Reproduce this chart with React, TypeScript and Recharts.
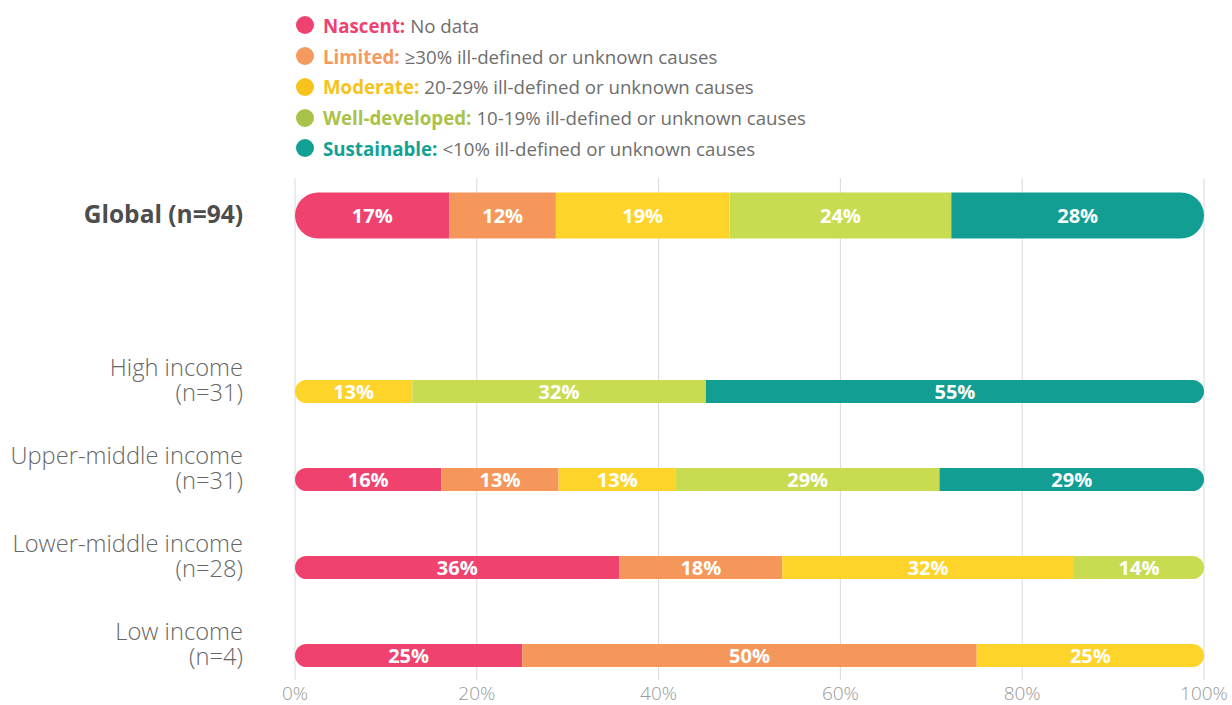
import React from "react";
import { Bar, BarChart, CartesianGrid, LabelList, Legend, Rectangle, XAxis, YAxis } from "recharts";

const categories = [
  "Global (n=94)",
  "",
  "High income (n=31)",
  "Upper-middle income (n=31)",
  "Lower-middle income (n=28)",
  "Low income (n=4)",
];
const nascent = [17.0, 0, 0, 16.1, 35.7, 25];
const limited = [11.7, 0, 0, 12.9, 17.9, 50];
const moderate = [19.1, 0, 12.9, 12.9, 32.1, 25];
const wellDeveloped = [24.4, 0, 32.3, 29.0, 14.3, 0];
const sustainable = [27.8, 0, 54.8, 29.1, 0, 0];
const xTicks = [0, 20, 40, 60, 80, 100];

const seriesKeys = ["nascent", "limited", "moderate", "wellDeveloped", "sustainable"];
const seriesNames = ["Nascent:", "Limited:", "Moderate:", "Well-developed:", "Sustainable:"];
const seriesDescriptions = [
  "No data",
  "≥30% ill-defined or unknown causes",
  "20-29% ill-defined or unknown causes",
  "10-19% ill-defined or unknown causes",
  "<10% ill-defined or unknown causes",
];

const barColors = ["#EF426F", "#F5975B", "#FFD42A", "#C9DC51", "#129E93"];
const legendColors = ["#EE4370", "#F59A5E", "#F7C21B", "#A9C24A", "#12A193"];
const FONT = "'Open Sans', sans-serif";

const data = categories.map((name, i) => ({
  name,
  nascent: nascent[i],
  limited: limited[i],
  moderate: moderate[i],
  wellDeveloped: wellDeveloped[i],
  sustainable: sustainable[i],
}));

// rounds only the outer ends of each stacked row; the global row is drawn twice as thick
const makeShape = (idx: number) => (props: any) => {
  const { x, y, width, height, payload, fill } = props;
  if (!width || width <= 0) return <g />;
  const row = seriesKeys.map((k) => Number(payload[k]) || 0);
  const before = row.slice(0, idx).reduce((a, b) => a + b, 0);
  const after = row.slice(idx + 1).reduce((a, b) => a + b, 0);
  const h = payload.name === categories[0] ? height * 2 : height;
  const top = y + height / 2 - h / 2;
  const r = h / 2;
  const left = before === 0 ? r : 0;
  const right = after === 0 ? r : 0;
  return <Rectangle x={x} y={top} width={width} height={h} fill={fill} radius={[left, right, right, left]} />;
};

const YTick = (props: any) => {
  const { x, y, payload } = props;
  const label: string = payload.value;
  if (!label) return <g />;
  if (label === categories[0]) {
    return (
      <text x={x} y={y + 8} textAnchor="end" fontFamily={FONT} fontWeight={700} fontSize={24.5} fill="#4D4D4D">
        {label}
      </text>
    );
  }
  const cut = label.lastIndexOf(" (");
  return (
    <text textAnchor="end" fontFamily={FONT} fontWeight={300} fontSize={23.7} fill="#666">
      <tspan x={x} y={y - 15}>{label.slice(0, cut)}</tspan>
      <tspan x={x} y={y + 10}>{label.slice(cut + 1)}</tspan>
    </text>
  );
};

const XTick = (props: any) => {
  const { x, y, payload } = props;
  return (
    <text x={x} y={y - 6} textAnchor="middle" dominantBaseline="central" fontFamily={FONT} fontWeight={300} fontSize={19} fill="#999">
      {`${payload.value}%`}
    </text>
  );
};

const LegendContent = () => (
  <div style={{ fontFamily: FONT, fontSize: 18.7 }}>
    {seriesKeys.map((k, i) => (
      <div key={k} style={{ display: "flex", alignItems: "center", height: 30.75, whiteSpace: "nowrap" }}>
        <span
          style={{ display: "inline-block", width: 18, height: 18, borderRadius: 9, background: legendColors[i], marginRight: 9 }}
        />
        <span style={{ fontWeight: 700, color: legendColors[i] }}>{seriesNames[i]}</span>
        <span style={{ color: "#6E6E6E", marginLeft: 5, fontWeight: 400 }}>{seriesDescriptions[i]}</span>
      </div>
    ))}
  </div>
);

const fmt = (v: any) => (Number(v) > 0 ? `${Math.round(Number(v))}%` : "");

export default function App() {
  return (
    <div style={{ position: "absolute", left: 0, top: 0, width: 1232, height: 705, background: "#fff", fontFamily: FONT }}>
      <BarChart
        width={1232}
        height={705}
        data={data}
        layout="vertical"
        margin={{ top: 171, right: 28, bottom: 0, left: 0 }}
        barSize={23}
      >
        <CartesianGrid horizontal={false} stroke="#D9D9D9" y={178} height={502} />
        <XAxis
          type="number"
          domain={[0, 100]}
          ticks={xTicks}
          axisLine={false}
          tickLine={false}
          tickSize={0}
          tickMargin={0}
          height={6}
          tick={<XTick />}
        />
        <YAxis
          type="category"
          dataKey="name"
          width={295}
          axisLine={false}
          tickLine={false}
          tickSize={0}
          tickMargin={52}
          interval={0}
          tick={<YTick />}
        />
        <Legend
          layout="horizontal"
          verticalAlign="middle"
          align="center"
          content={<LegendContent />}
          wrapperStyle={{ top: 10, left: 296, width: "auto" }}
        />
        {seriesKeys.map((k, i) => (
          <Bar
            key={k}
            dataKey={k}
            name={seriesNames[i]}
            stackId="a"
            fill={barColors[i]}
            shape={makeShape(i)}
            isAnimationActive={false}
          >
            <LabelList
              dataKey={k}
              position="center"
              formatter={fmt}
              fill="#fff"
              fontFamily={FONT}
              fontSize={20}
              fontWeight={700}
            />
          </Bar>
        ))}
      </BarChart>
    </div>
  );
}
